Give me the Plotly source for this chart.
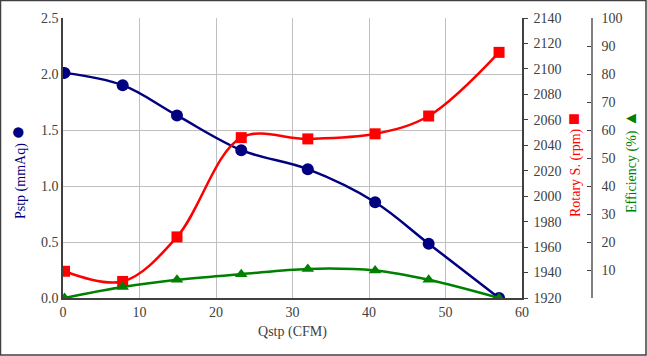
import plotly.graph_objects as go

qstp = [0.2, 7.8, 14.9, 23.3, 32.0, 40.8, 47.8, 57.0]
pstp = [2.01, 1.90, 1.63, 1.32, 1.15, 0.855, 0.485, 0.0]
rpm = [1941, 1933, 1968, 2046, 2045, 2049, 2063, 2113]
eff = [0.0, 3.9, 6.5, 8.5, 10.4, 9.8, 6.5, 0.0]

x_ticks = [0, 10, 20, 30, 40, 50, 60]
p_ticks = [0.0, 0.5, 1.0, 1.5, 2.0, 2.5]
rpm_ticks = list(range(1920, 2141, 20))
eff_ticks = list(range(10, 101, 10))

NAVY = "#000080"
RED = "#ff0000"
GREEN = "#008000"
FONT = "Liberation Serif"
TICKC = "#404040"
FS = 14

W, H = 647, 356
L, R, T, B = 63, 7, 18, 58
pw = W - L - R
ph = H - T - B
def px(x):
    return (x - L) / pw
def py(y):
    return (H - B - y) / ph

fig = go.Figure()
fig.add_trace(go.Scatter(x=qstp, y=pstp, mode="lines+markers", yaxis="y",
                         line=dict(color=NAVY, width=2.5, shape="spline", smoothing=1),
                         marker=dict(symbol="circle", size=12, color=NAVY), showlegend=False))
fig.add_trace(go.Scatter(x=qstp, y=rpm, mode="lines+markers", yaxis="y2",
                         line=dict(color=RED, width=2.5, shape="spline", smoothing=1),
                         marker=dict(symbol="square", size=11, color=RED), showlegend=False))
fig.add_trace(go.Scatter(x=qstp, y=eff, mode="lines+markers", yaxis="y3",
                         line=dict(color=GREEN, width=2.5, shape="spline", smoothing=1),
                         marker=dict(symbol="triangle-up", size=11, color=GREEN), showlegend=False))

xend = px(522)
fig.update_layout(
    width=W, height=H,
    margin=dict(l=L, r=R, t=T, b=B, autoexpand=False),
    paper_bgcolor="white", plot_bgcolor="white",
    font=dict(family=FONT, size=FS, color=TICKC),
    xaxis=dict(domain=[0, xend], range=[0, 60], tickvals=x_ticks,
               showgrid=True, gridcolor="#c0c0c0", gridwidth=1,
               showline=True, linecolor="#404040", linewidth=1.5,
               ticks="", zeroline=False,
               title=dict(text="Qstp (CFM)", font=dict(family=FONT, size=FS, color=TICKC), standoff=8)),
    yaxis=dict(range=[0, 2.5], tickvals=p_ticks, tickformat=".1f",
               showgrid=True, gridcolor="#c0c0c0", gridwidth=1,
               showline=True, linecolor="#404040", linewidth=1.5,
               ticks="", zeroline=False),
    yaxis2=dict(range=[1920, 2140], tickvals=rpm_ticks, overlaying="y", side="right",
                anchor="x", showgrid=False, showline=True, linecolor="#404040", linewidth=1.5,
                ticks="outside", ticklen=4, tickcolor="#404040", zeroline=False,
                ticklabelstandoff=3),
    yaxis3=dict(range=[0, 100], tickvals=eff_ticks, overlaying="y", side="right",
                anchor="free", position=px(592), showgrid=False, showline=True,
                linecolor="#808080", linewidth=1.5, ticks="inside", ticklen=4,
                tickcolor="#404040", zeroline=False, ticklabelstandoff=6),
)

fig.add_annotation(text="Pstp (mmAq) <span style='font-size:24px'>●</span>",
                   textangle=-90, xref="paper", yref="paper", x=px(17), y=py(172),
                   xanchor="center", yanchor="middle", showarrow=False,
                   font=dict(family=FONT, size=FS, color=NAVY))
fig.add_annotation(text="Rotary S. (rpm) <span style='font-size:20px'>■</span>",
                   textangle=-90, xref="paper", yref="paper", x=px(573), y=py(165),
                   xanchor="center", yanchor="middle", showarrow=False,
                   font=dict(family=FONT, size=FS, color=RED))
fig.add_annotation(text="Efficiency (%) <span style='font-size:17px'>▲</span>",
                   textangle=-90, xref="paper", yref="paper", x=px(630), y=py(162),
                   xanchor="center", yanchor="middle", showarrow=False,
                   font=dict(family=FONT, size=FS, color=GREEN))

fig.add_shape(type="rect", xref="paper", yref="paper",
              x0=px(0.5), x1=px(646), y0=py(355), y1=py(0.5),
              line=dict(color="#404040", width=1.5), layer="below")

fig.write_html("out.html", config={"displayModeBar": False},
               post_script="document.body.style.margin='0';")
